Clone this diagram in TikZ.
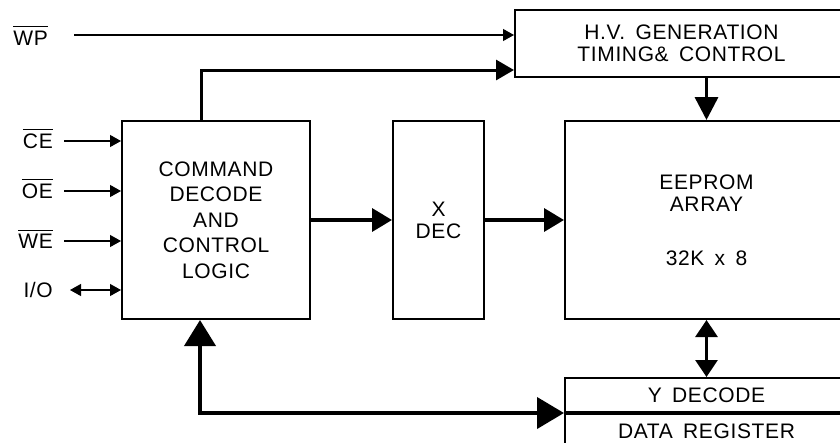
\documentclass[tikz,border=0pt]{standalone}
\usepackage{fontspec}
\setmainfont{Liberation Sans}[LetterSpace=3,WordSpace=1.6]
\usepackage{tikz}
\usetikzlibrary{arrows.meta,calc,positioning}
\newcommand{\sigbar}[1]{\setbox0\hbox{#1}\rlap{\rule[\dimexpr\ht0+3.5pt\relax]{\wd0}{1pt}}\box0}

\begin{document}
\begin{tikzpicture}[x=1pt,y=-1pt,font=\fontsize{21}{22}\selectfont,
  blk/.style={draw,line width=2pt,align=center,inner sep=0pt},
  sig/.style={line width=1.2pt,-{Triangle[length=11pt,width=12pt]}},
  bus/.style={line width=3.5pt},
  lbl/.style={anchor=base east,inner sep=0pt}]
  \useasboundingbox (0,0) rectangle (840,442);
  \clip (0,0) rectangle (840,442);
  \node[blk,minimum width=188pt,minimum height=198pt,font=\fontsize{21}{25.5}\selectfont] (cmd) at (216,220) {COMMAND\\DECODE\\AND\\CONTROL\\LOGIC};
  \node[blk,minimum width=91pt,minimum height=198pt] (xdec) at (438.5,220) {X\\DEC};
  \node[blk,minimum width=283pt,minimum height=198pt] (eeprom) at (706.5,220) {EEPROM\\ARRAY\\[32pt]32K x 8};
  \node[blk,minimum width=333pt,minimum height=67pt] (hv) at (681.5,43.5) {H.V. GENERATION\\TIMING\& CONTROL};
  \node[blk,minimum width=283pt,minimum height=34pt] (ydec) at (706.5,395) {Y DECODE};
  \node[blk,minimum width=283pt,minimum height=34pt,below=0pt of ydec] (dreg) {DATA REGISTER};

  \coordinate (wp) at (74,35);
  \node[lbl] (wp-lbl) at (48,45) {\sigbar{WP}};
  \draw[sig] (wp) -- (wp -| hv.west);
  \foreach \s/\t/\y in {ce/CE/141,oe/OE/191,we/WE/241} {
    \coordinate (\s) at (64,\y);
    \node[lbl] (\s-lbl) at (53,\y+7.5) {\sigbar{\t}};
    \draw[sig] (\s) -- (\s -| cmd.west);
  }
  \coordinate (io) at (70,290);
  \node[lbl] (io-lbl) at (53,297) {I/O};
  \draw[sig,{Triangle[length=11pt,width=12pt]}-{Triangle[length=11pt,width=12pt]}] (io) -- (io -| cmd.west);

  \draw[bus,line width=3pt,-{Triangle[length=18pt,width=20pt]}] ($(cmd.north)+(-15,0)$) |- ($(hv.west)+(0,26.5)$);
  \draw[bus,-{Triangle[length=20pt,width=23pt]}] (cmd) -- (xdec);
  \draw[bus,-{Triangle[length=20pt,width=23pt]}] (xdec) -- (eeprom);
  \draw[bus,-{Triangle[length=23pt,width=23pt]}] (hv.south -| eeprom.north) -- (eeprom.north);
  \draw[bus,line width=3pt,{Triangle[length=17pt,width=22pt]}-{Triangle[length=17pt,width=22pt]}] (eeprom.south) -- (ydec.north);
  \draw[bus,line width=4pt,{Triangle[length=26pt,width=31pt]}-{Triangle[length=27pt,width=31pt]}] ($(cmd.south)+(-16,0)$) |- (ydec.south west);
\end{tikzpicture}
\end{document}
